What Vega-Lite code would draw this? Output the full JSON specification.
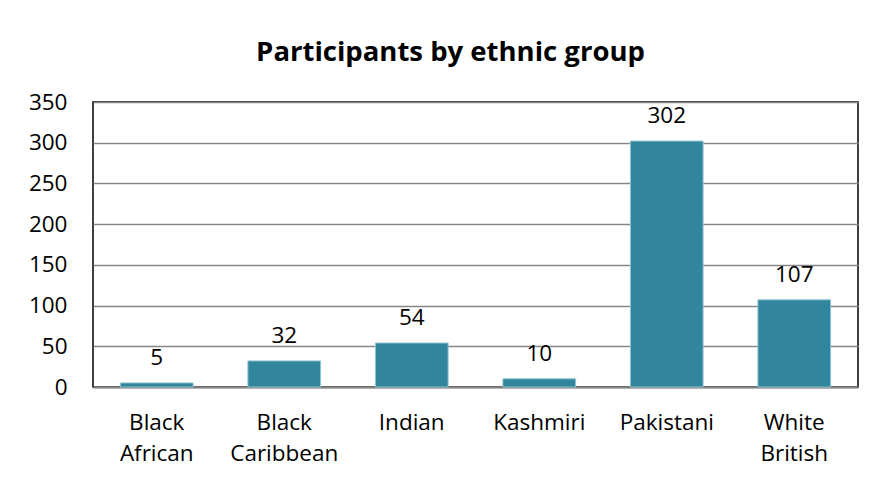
{
  "$schema": "https://vega.github.io/schema/vega-lite/v6.json",
  "width": 765,
  "height": 285,
  "autosize": {"type": "none"},
  "padding": {"left": 93, "top": 102, "right": 17, "bottom": 93},
  "background": "white",
  "title": {
    "text": "Participants by ethnic group",
    "anchor": "middle",
    "frame": "group",
    "dx": -25,
    "offset": 25,
    "font": "Open Sans",
    "fontSize": 27.5,
    "fontWeight": "bold",
    "color": "#000000"
  },
  "data": {
    "values": [
      {"group": "Black African", "count": 5},
      {"group": "Black Caribbean", "count": 32},
      {"group": "Indian", "count": 54},
      {"group": "Kashmiri", "count": 10},
      {"group": "Pakistani", "count": 302},
      {"group": "White British", "count": 107}
    ]
  },
  "encoding": {
    "x": {
      "field": "group",
      "type": "nominal",
      "sort": null,
      "scale": {"paddingInner": 0.43, "paddingOuter": 0.215},
      "axis": {
        "title": null,
        "labelAngle": 0,
        "labelExpr": "split(datum.label, ' ')",
        "labelFont": "Open Sans",
        "labelFontSize": 22.5,
        "labelColor": "#000000",
        "labelLineHeight": 31,
        "labelPadding": 24,
        "ticks": false,
        "domain": true,
        "domainColor": "#868686",
        "domainWidth": 2
      }
    },
    "y": {
      "field": "count",
      "type": "quantitative",
      "scale": {"domain": [0, 350], "nice": false},
      "axis": {
        "title": null,
        "values": [0, 50, 100, 150, 200, 250, 300, 350],
        "labelFont": "Open Sans",
        "labelFontSize": 22.5,
        "labelColor": "#000000",
        "labelPadding": 26,
        "ticks": false,
        "domain": false,
        "grid": true,
        "gridColor": "#868686",
        "gridWidth": 1.5
      }
    }
  },
  "layer": [
    {
      "mark": {"type": "bar", "color": "#31859C", "stroke": "#8EC3D1", "strokeWidth": 1}
    },
    {
      "mark": {"type": "text", "baseline": "bottom", "dy": -13, "font": "Open Sans", "fontSize": 22.5, "color": "#000000"},
      "encoding": {"text": {"field": "count", "type": "quantitative"}}
    }
  ],
  "config": {
    "view": {"stroke": "#000000", "strokeWidth": 1.5}
  }
}
